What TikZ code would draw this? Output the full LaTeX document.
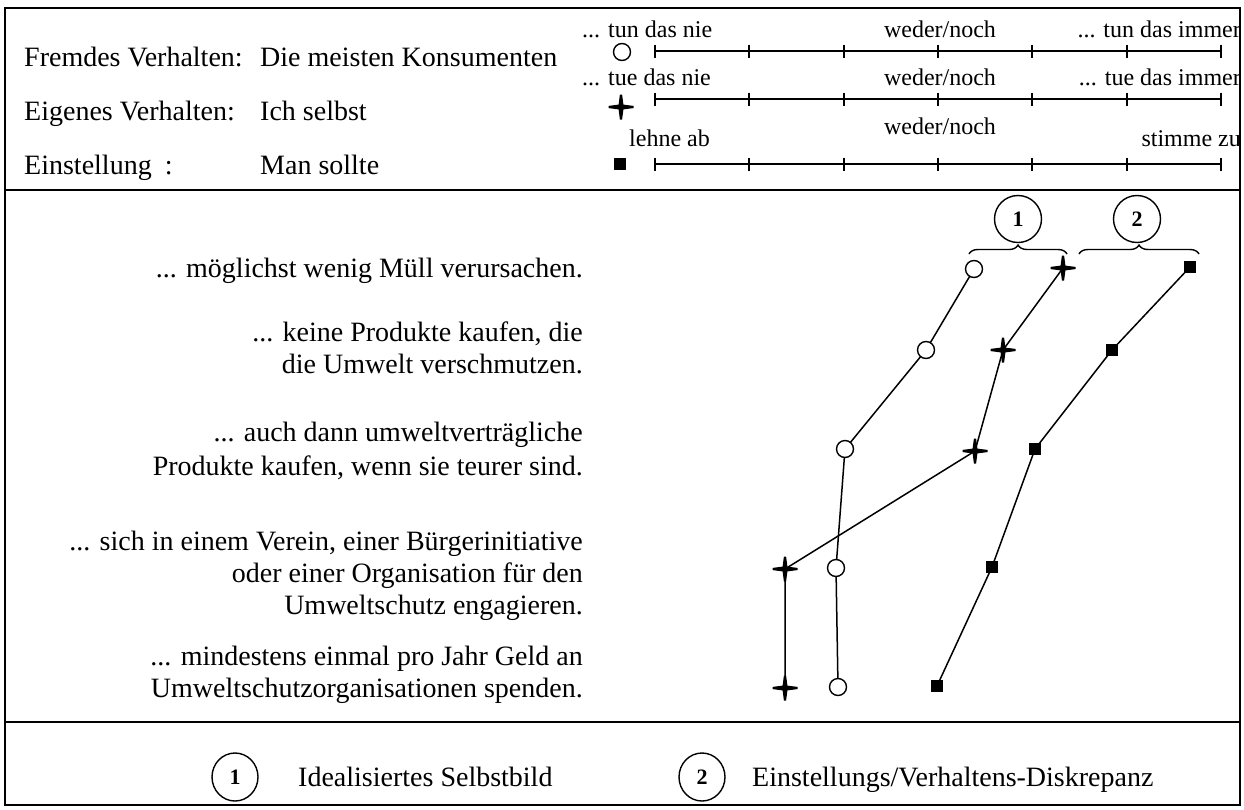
\documentclass[tikz,border=0pt]{standalone}
\usepackage{fontspec}
\setmainfont{Liberation Serif}
\usetikzlibrary{shapes.geometric,decorations.pathreplacing}
\pgfdeclarelayer{background}
\pgfsetlayers{background,main}

\begin{document}
\begin{tikzpicture}[x=1pt,y=-1pt,
  txt/.style={font=\fontsize{28}{33}\selectfont, inner sep=0},
  small/.style={font=\fontsize{24}{28}\selectfont, inner sep=0},
  opencirc/.style={circle, draw, line width=1.4, fill=white, minimum size=17, inner sep=0},
  fullsq/.style={rectangle, fill, minimum size=12, inner sep=0},
  cross/.style={rectangle, minimum size=25, inner sep=0,
    path picture={\fill[shift={(path picture bounding box.center)}]
      (-1.1,-12.5) -- (1.1,-12.5) -- (2.4,-2.4) -- (12.5,-1.1) -- (12.5,1.1) -- (2.4,2.4)
      -- (1.1,12.5) -- (-1.1,12.5) -- (-2.4,2.4) -- (-12.5,1.1) -- (-12.5,-1.1) -- (-2.4,-2.4) -- cycle;}},
  link/.style={line width=1.5},
  scaleline/.style={line width=1.7},
  frame/.style={line width=1.9},
  num/.style={circle, draw, line width=1.4, minimum size=47, inner sep=0,
    font=\fontsize{22}{26}\selectfont\bfseries},
  legnum/.style={ellipse, draw, line width=1.4, minimum width=46, minimum height=48, inner sep=0,
    font=\fontsize{22}{26}\selectfont\bfseries},
  bracestyle/.style={decorate, decoration={brace, amplitude=9}, line width=1.4},
]
\useasboundingbox (0,0) rectangle (1244,809);
\begin{pgfonlayer}{background}
\fill[white] (0,0) rectangle (1244,809);
\end{pgfonlayer}

% outer frame and section dividers
\draw[frame] (5,8) rectangle (1240,805);
\draw[frame] (5,190) -- (1240,190);
\draw[frame] (5,722) -- (1240,722);

% header rows
\node[txt, anchor=base west] (h1) at (24,66) {Fremdes Verhalten:};
\node[txt, anchor=base west] (h1b) at (260,66) {Die meisten Konsumenten};
\node[txt, anchor=base west] (h2) at (24,120) {Eigenes Verhalten:};
\node[txt, anchor=base west] (h2b) at (260,120) {Ich selbst};
\node[txt, anchor=base west] (h3) at (24,174) {Einstellung\hspace{13pt}:};
\node[txt, anchor=base west] (h3b) at (260,174) {Man sollte};

% rating scales
\foreach \yy in {51,99,164} {
  \draw[scaleline] (655,\yy) -- (1221,\yy);
  \foreach \k in {0,...,6}
    \draw[scaleline] (655+94.33*\k,\yy-6.5) -- (655+94.33*\k,\yy+6.5);
}
\node[small, anchor=base west] (l1a) at (582,37) {... tun das nie};
\node[small, anchor=base] (l1b) at (940,37) {weder/noch};
\node[small, anchor=base east] (l1c) at (1241,37) {... tun das immer};
\node[small, anchor=base west] (l2a) at (582,85) {... tue das nie};
\node[small, anchor=base] (l2b) at (940,85) {weder/noch};
\node[small, anchor=base east] (l2c) at (1241,85) {... tue das immer};
\node[small, anchor=base west] (l3a) at (629,146) {lehne ab};
\node[small, anchor=base] (l3b) at (940,134) {weder/noch};
\node[small, anchor=base east] (l3c) at (1241,146) {stimme zu};

\node[opencirc] (k1) at (622,52) {};
\node[cross] (k2) at (621,107) {};
\node[fullsq] (k3) at (620,164) {};

% statements
\node[txt, anchor=base east] (s1) at (583,277) {... möglichst wenig Müll verursachen.};
\node[txt, anchor=base east] (s2a) at (583,341) {... keine Produkte kaufen, die};
\node[txt, anchor=base east] (s2b) at (583,373) {die Umwelt verschmutzen.};
\node[txt, anchor=base east] (s3a) at (583,441) {... auch dann umweltverträgliche};
\node[txt, anchor=base east] (s3b) at (583,475) {Produkte kaufen, wenn sie teurer sind.};
\node[txt, anchor=base east] (s4a) at (583,550) {... sich in einem Verein, einer Bürgerinitiative};
\node[txt, anchor=base east] (s4b) at (583,582) {oder einer Organisation für den};
\node[txt, anchor=base east] (s4c) at (583,614) {Umweltschutz engagieren.};
\node[txt, anchor=base east] (s5a) at (583,665) {... mindestens einmal pro Jahr Geld an};
\node[txt, anchor=base east] (s5b) at (583,697) {Umweltschutzorganisationen spenden.};

% profile: others' behaviour (open circles)
\node[opencirc] (c1) at (974,269) {};
\node[opencirc] (c2) at (926,350) {};
\node[opencirc] (c3) at (845,449) {};
\node[opencirc] (c4) at (836,568) {};
\node[opencirc] (c5) at (838,687) {};

% profile: own behaviour (crosses)
\node[cross] (p1) at (1063,268) {};
\node[cross] (p2) at (1003,350) {};
\node[cross] (p3) at (975,451) {};
\node[cross] (p4) at (785,569) {};
\node[cross] (p5) at (785,688) {};

% profile: attitude (filled squares)
\node[fullsq] (q1) at (1190,267) {};
\node[fullsq] (q2) at (1112,350) {};
\node[fullsq] (q3) at (1035,449) {};
\node[fullsq] (q4) at (992,567) {};
\node[fullsq] (q5) at (937,686) {};

% profile lines run behind the markers
\begin{pgfonlayer}{background}
\draw[link] (c1.center) -- (c2.center) -- (c3.center) -- (c4.center) -- (c5.center);
\draw[link] (p1.center) -- (p2.center) -- (p3.center) -- (p4.center) -- (p5.center);
\draw[link] (q1.center) -- (q2.center) -- (q3.center) -- (q4.center) -- (q5.center);
\end{pgfonlayer}

% braces with numbered markers
\node[num] (n1) at (1018,219) {1};
\node[num] (n2) at (1137,219) {2};
\draw[bracestyle] (969,254) -- (1067,254);
\draw[bracestyle] (1079,254) -- (1199,254);

% legend
\node[legnum] (g1) at (235,777) {1};
\node[txt, anchor=base west] (g1t) at (298,786) {Idealisiertes Selbstbild};
\node[legnum] (g2) at (702,777) {2};
\node[txt, anchor=base west] (g2t) at (752,786) {Einstellungs/Verhaltens-Diskrepanz};
\end{tikzpicture}
\end{document}
